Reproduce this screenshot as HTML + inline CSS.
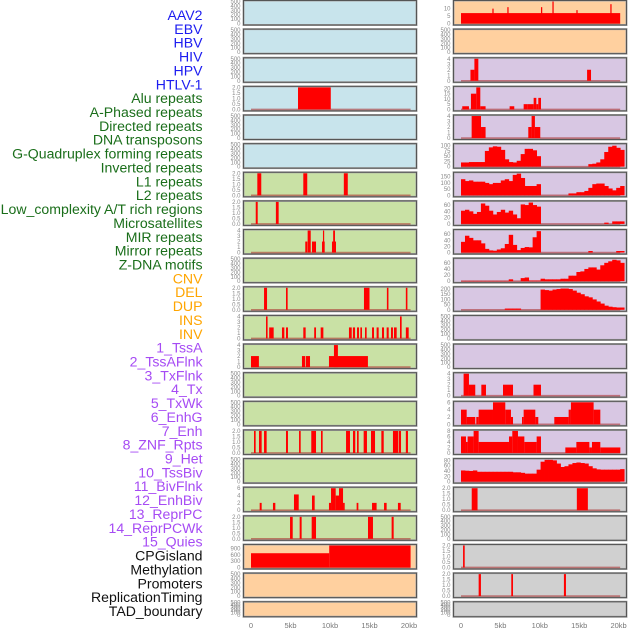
<!DOCTYPE html>
<html><head><meta charset="utf-8">
<style>
html,body{margin:0;padding:0;background:#fff;}
svg{display:block;font-family:"Liberation Sans",sans-serif;}
</style></head>
<body>
<svg id="chart" width="630" height="630" viewBox="0 0 630 630" xmlns="http://www.w3.org/2000/svg"></svg>
<script>
// ---- labels ----
const trackLabels = ["AAV2","EBV","HBV","HIV","HPV","HTLV-1","Alu repeats","A-Phased repeats","Directed repeats","DNA transposons","G-Quadruplex forming repeats","Inverted repeats","L1 repeats","L2 repeats","Low_complexity A/T rich regions","Microsatellites","MIR repeats","Mirror repeats","Z-DNA motifs","CNV","DEL","DUP","INS","INV","1_TssA","2_TssAFlnk","3_TxFlnk","4_Tx","5_TxWk","6_EnhG","7_Enh","8_ZNF_Rpts","9_Het","10_TssBiv","11_BivFlnk","12_EnhBiv","13_ReprPC","14_ReprPCWk","15_Quies","CPGisland","Methylation","Promoters","ReplicationTiming","TAD_boundary"];
const labelGroups = [0,0,0,0,0,0,1,1,1,1,1,1,1,1,1,1,1,1,1,2,2,2,2,2,3,3,3,3,3,3,3,3,3,3,3,3,3,3,3,4,4,4,4,4];
const groupColors = ["#1c1cf0","#1a6e1a","#ffa500","#a64bf4","#111111"];
const xTickLabels = ["0","5kb","10kb","15kb","20kb"];
const xTickValues = [0,5,10,15,20];

// ---- tick sets ----
const ticksEmpty = [0,100,200,300,400,500];
const ticks2 = [0,0.5,1,1.5,2];
const ticks4 = [0,1,2,3,4];
const ticks6 = [0,2,4,6];
const ticks8 = [0,2,4,6,8];
const ticksCNV = [0,300,600,900];
const ticksINS = [0,5,10];
const ticks20 = [0,5,10,15,20];
const ticks100 = [0,25,50,75,100];
const ticks150 = [0,50,100,150];
const ticks60 = [0,20,40,60];
const ticks200 = [0,50,100,150,200];
const ticks80 = [0,20,40,60,80];

// ---- segment data [startKb, endKb, value] ----
const hivSegs = [[5.95,10.1,2]];
const aluSegs = [[0.8,1.3,2],[6.62,7.12,2],[11.75,12.25,2]];
const aPhasedSegs = [[0.6,0.85,2],[3.15,3.5,2]];
const directedSegs = [[6.87,7.13,2],[7.17,7.56,4],[7.72,8.23,2],[8.99,9.33,2],[9.11,9.24,4],[10.25,10.76,2],[10.4,10.63,4]];
const gQuadSegs = [[1.65,2.03,2],[4.43,4.64,2],[14.3,15.0,2],[17.2,17.4,2],[19.6,19.8,2]];
const invertedSegs = [[1.9,2.1,4],[2.3,2.87,2],[3.92,4.22,2],[4.43,4.68,2],[6.62,6.92,2],[8.0,8.23,2],[8.82,9.16,2],[12.4,12.75,2],[12.9,13.17,2],[13.42,13.67,2],[13.84,14.05,2],[14.43,14.64,2],[15.32,15.57,2],[15.9,16.16,2],[16.58,16.84,2],[17.17,17.43,2],[17.72,17.97,2],[18.1,18.44,2],[18.86,19.07,4],[19.6,19.96,2]];
const l1Segs = [[0,1.0,2],[6.45,6.87,2],[6.96,7.47,2],[9.87,14.8,2],[10.5,11.0,4]];
const microSegs = [[0.38,0.59,2],[1.01,1.35,2],[1.65,1.98,2],[4.43,4.68,2],[6.08,6.29,2],[7.63,8.23,2],[8.86,9.07,2],[12.03,12.53,2],[12.91,13.2,2],[13.42,13.63,2],[14.26,14.68,2],[15.19,15.7,2],[16.5,16.8,2],[17.97,18.65,2],[18.73,18.99,2],[19.6,19.87,2]];
const mirrorSegs = [[1.1,1.35,2],[2.78,3.08,2],[5.44,6.04,4.3],[7.72,8.06,4],[9.87,10.13,2],[10.13,10.72,6],[10.72,11.14,4],[11.14,11.65,6],[11.65,11.86,2],[13.37,13.59,2],[15.32,15.9,2],[16.84,17.17,2],[18.6,18.95,2]];
const zdnaSegs = [[4.94,5.28,2],[6.16,6.41,2],[7.68,8.23,2],[14.81,15.44,2],[17.8,18.06,2]];
const cnvSegs = [[0,9.9,680],[9.9,20.2,1060]];
const insSegs = [[0,20.2,7],[3.98,4.14,10],[5.88,6.04,11],[10.15,10.31,11],[11.6,11.76,14.8],[14.64,14.8,9],[18.95,19.11,13]];
const tssASegs = [[1.2,1.7,2],[1.7,2.2,4],[16.0,16.5,2]];
const tssAFlnkSegs = [[0.16,1.01,3],[1.26,1.94,15],[1.94,2.45,21],[2.45,3.12,3],[6.17,6.76,3],[7.95,8.46,5],[8.46,9.22,5],[9.22,9.56,11],[9.56,9.81,5],[9.81,10.15,11]];
const txFlnkSegs = [[1.35,2.54,4],[2.54,3.12,2],[8.54,8.96,2],[8.96,9.38,4],[9.38,10.06,2]];
const enhBivSegs = [[0.33,1.01,4],[1.01,1.81,2],[2.58,3.17,2],[5.33,6.6,2],[9.2,10.15,2]];
const reprPCSegs = [[0,0.72,4],[0.72,1.81,2],[1.94,2.24,2],[2.24,4.06,4],[4.06,5.62,6],[5.62,6.34,4],[6.34,6.6,2],[7.74,7.95,2],[7.95,9.43,4],[9.43,9.81,2],[11.84,13.66,2],[13.66,13.95,4],[13.95,16.83,6],[16.83,17.68,4]];
const reprPCWkSegs = [[0,0.63,6],[0.63,0.84,4],[0.84,1.6,6],[1.6,2.24,8],[2.24,6.09,4],[6.09,6.51,6],[6.51,7.23,8],[7.23,8.04,6],[8.04,9.6,4],[9.6,10.15,6],[13.24,14.64,2],[14.64,16.29,4],[16.29,16.62,2],[16.62,17.68,4],[17.68,20.22,2]];
const cpgSegs = [[1.36,2.1,2],[14.7,16.1,2]];
const promoterSegs = [[0.26,0.47,2]];
const repTimingSegs = [[2.24,2.53,2],[6.38,6.6,2],[13.06,13.32,2]];

// ---- binned data (bin width 0.505 kb, starting at 0) ----
const txBins = [20,20,22,22,22,22,75,92,97,95,80,35,22,20,28,60,85,85,78,50,0,0,0,0,0,0,0,0,0,0,0,0,12,14,20,35,70,95,100,90,80];
const txWkBins = [130,115,120,110,110,110,100,90,100,100,120,130,115,165,175,140,75,75,75,90,0,0,0,0,0,0,0,15,15,25,25,35,60,90,95,95,75,55,40,60,75];
const enhGBins = [42,45,40,32,38,65,58,42,30,38,45,36,42,30,18,62,60,68,60,55,0,0,0,0,0,0,0,0,0,0,0,0,0,0,0,0,4,0,8,8,8];
const enhBins = [35,55,48,40,40,30,12,7,6,10,14,28,58,25,8,15,18,17,50,70,0,0,0,0,0,0,0,0,0,0,0,0,5,0,0,0,0,0,0,5,5];
const znfBins = [1,1,1,1,1,1,1,1,1,1,1,1,6,0,0,10,12,2,2,2,8,6,6,6,6,8,8,18,18,30,32,40,45,45,38,52,60,65,70,68,60];
const hetBins = [0,0,0,0,0,0,0,0,0,0,0,12,12,12,12,0,0,0,0,0,195,190,185,195,200,205,205,200,185,165,150,130,120,100,80,60,40,30,25,22,22];
const quiesBins = [42,41,40,42,37,37,37,37,37,37,37,37,37,35,35,33,30,30,30,45,75,82,82,80,68,55,58,65,70,72,70,68,58,50,46,45,45,45,45,45,47];

// ---- panel configuration: [column, row, name, ticks, ymax, segs, bins, fill] ----
const BLUE="#c8e4ec", GREEN="#c9e1a5", ORANGE="#ffd09f", PURPLE="#d8c7e3", GRAY="#d0d0d0";
const panels = [
 [0,0,"AAV2",ticksEmpty,500,null,null,BLUE],[0,1,"EBV",ticksEmpty,500,null,null,BLUE],
 [0,2,"HBV",ticksEmpty,500,null,null,BLUE],[0,3,"HIV",ticks2,2,hivSegs,null,BLUE],
 [0,4,"HPV",ticksEmpty,500,null,null,BLUE],[0,5,"HTLV-1",ticksEmpty,500,null,null,BLUE],
 [0,6,"Alu",ticks2,2,aluSegs,null,GREEN],[0,7,"A-Phased",ticks2,2,aPhasedSegs,null,GREEN],
 [0,8,"Directed",ticks4,4,directedSegs,null,GREEN],[0,9,"DNA-transposons",ticksEmpty,500,null,null,GREEN],
 [0,10,"G-Quadruplex",ticks2,2,gQuadSegs,null,GREEN],[0,11,"Inverted",ticks4,4,invertedSegs,null,GREEN],
 [0,12,"L1",ticks4,4,l1Segs,null,GREEN],[0,13,"L2",ticksEmpty,500,null,null,GREEN],
 [0,14,"Low-complexity",ticksEmpty,500,null,null,GREEN],[0,15,"Microsatellites",ticks2,2,microSegs,null,GREEN],
 [0,16,"MIR",ticksEmpty,500,null,null,GREEN],[0,17,"Mirror",ticks6,6,mirrorSegs,null,GREEN],
 [0,18,"Z-DNA",ticks2,2,zdnaSegs,null,GREEN],[0,19,"CNV",ticksCNV,1050,cnvSegs,null,ORANGE],
 [0,20,"DEL",ticksEmpty,500,null,null,ORANGE],[0,21,"DUP",ticksEmpty,500,null,null,ORANGE],
 [1,0,"INS",ticksINS,14.8,insSegs,null,ORANGE],[1,1,"INV",ticksEmpty,500,null,null,ORANGE],
 [1,2,"TssA",ticks4,4,tssASegs,null,PURPLE],[1,3,"TssAFlnk",ticks20,21,tssAFlnkSegs,null,PURPLE],
 [1,4,"TxFlnk",ticks4,4,txFlnkSegs,null,PURPLE],[1,5,"Tx",ticks100,105,null,txBins,PURPLE],
 [1,6,"TxWk",ticks150,178,null,txWkBins,PURPLE],[1,7,"EnhG",ticks60,70,null,enhGBins,PURPLE],
 [1,8,"Enh",ticks60,72,null,enhBins,PURPLE],[1,9,"ZNF-Rpts",ticks60,72,null,znfBins,PURPLE],
 [1,10,"Het",ticks200,212,null,hetBins,PURPLE],[1,11,"TssBiv",ticksEmpty,500,null,null,PURPLE],
 [1,12,"BivFlnk",ticksEmpty,500,null,null,PURPLE],[1,13,"EnhBiv",ticks4,4,enhBivSegs,null,PURPLE],
 [1,14,"ReprPC",ticks6,6,reprPCSegs,null,PURPLE],[1,15,"ReprPCWk",ticks8,8,reprPCWkSegs,null,PURPLE],
 [1,16,"Quies",ticks80,83,null,quiesBins,PURPLE],[1,17,"CPGisland",ticks2,2,cpgSegs,null,GRAY],
 [1,18,"Methylation",ticksEmpty,500,null,null,GRAY],[1,19,"Promoters",ticks2,2,promoterSegs,null,GRAY],
 [1,20,"ReplicationTiming",ticks2,2,repTimingSegs,null,GRAY],[1,21,"TAD-boundary",ticksEmpty,500,null,null,GRAY]
];
const BIN_W = 0.505;
const NS = "http://www.w3.org/2000/svg";
const svg = document.getElementById("chart");
function mk(tag, attrs, parent){
  const e = document.createElementNS(NS, tag);
  for (const k in attrs) e.setAttribute(k, attrs[k]);
  (parent||svg).appendChild(e);
  return e;
}
const colBox = [[243.5,416.5],[453.5,626.5]];
const colX0 = [251, 461];
const colScale = [7.9, 7.88];
function xScale(col, kb){ return colX0[col] + kb*colScale[col]; }

// labels
trackLabels.forEach((t,k)=>{
  const e = mk("text",{x:202.5,y:15+13.86*k+5,"text-anchor":"end","font-size":"14.1",fill:groupColors[labelGroups[k]]});
  e.textContent = t;
  
  
});

panels.forEach(p=>{
  const [col,row,name,ticks,ymax,segs,bins,fill] = p;
  const top = 28.63*row + 0.5;
  const h = row===21 ? 15 : 24.5;
  const bottom = top + h;
  const y0 = bottom - 1.5, y1 = top + 1;
  const yScale = v => y0 - Math.min(v,ymax)/ymax*(y0-y1);
  const g = mk("g",{});
  
  
  const bg = mk("rect",{x:colBox[col][0],y:top,width:colBox[col][1]-colBox[col][0],height:h,fill:fill,stroke:"#a8a8a8","stroke-width":2},g);
  
  
  // y ticks
  ticks.forEach(v=>{
    const lbl = ymax<=2 ? v.toFixed(1) : String(v);
    const t = mk("text",{x:colBox[col][0]-3,y:yScale(v)+2,"text-anchor":"end","font-size":"6",fill:"#8a8a8a"},g);
    t.textContent = lbl;
    
    
  });
  if (segs || bins){
    const base = mk("line",{x1:xScale(col,0),x2:xScale(col,20.2),y1:y0,y2:y0,stroke:"rgba(170,40,40,0.55)","stroke-width":1.6},g);
    
    
  }
  if (segs){
    segs.forEach(s=>{
      const xa = xScale(col,s[0]), xb = xScale(col,s[1]);
      const r = mk("rect",{x:xa,y:yScale(s[2]),width:Math.max(1.2,xb-xa),height:y0-yScale(s[2]),fill:"#ff0000"},g);
      
      
    });
  }
  if (bins){
    bins.forEach((v,i)=>{
      if (v<=0) return;
      const xa = xScale(col,i*BIN_W), xb = xScale(col,(i+1)*BIN_W);
      const r = mk("rect",{x:xa,y:yScale(v),width:xb-xa+0.4,height:y0-yScale(v),fill:"#ff0000"},g);
      
      
    });
  }
  const fr = mk("rect",{x:colBox[col][0],y:top,width:colBox[col][1]-colBox[col][0],height:h,fill:"none",stroke:"#555","stroke-width":1},g);
  
  
});

// x axis labels
[0,1].forEach(col=>{
  xTickValues.forEach((v,i)=>{
    const t = mk("text",{x:xScale(col,v),y:628,"text-anchor":"middle","font-size":"7.5",fill:"#777"});
    t.textContent = xTickLabels[i];
    
    
  });
});
</script>
</body></html>
